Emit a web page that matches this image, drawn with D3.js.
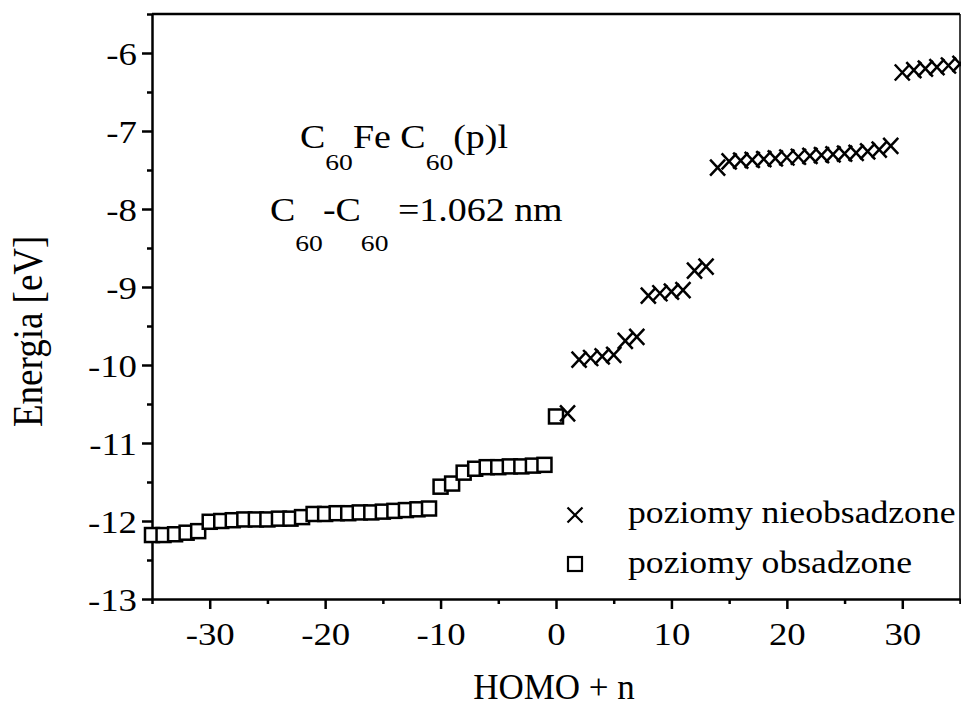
<!DOCTYPE html>
<html>
<head>
<meta charset="utf-8">
<script src="https://cdn.jsdelivr.net/npm/d3@7"></script>
<style>
  body { margin: 0; background: #fff; }
  text { font-family: "Liberation Serif", "Times New Roman", serif; fill: #000; white-space: pre; }
</style>
</head>
<body>
<div id="container"></div>
<script>
// occupied levels (HOMO + n, n <= 0)
var occN = [-35, -34, -33, -32, -31, -30, -29, -28, -27, -26, -25, -24, -23, -22, -21, -20, -19, -18,
            -17, -16, -15, -14, -13, -12, -11, -10, -9, -8, -7, -6, -5, -4, -3, -2, -1, 0];
var occE = [-12.18, -12.18, -12.17, -12.15, -12.13, -12.01, -12.00, -11.99, -11.98, -11.98, -11.98, -11.97,
            -11.97, -11.95, -11.91, -11.91, -11.90, -11.90, -11.89, -11.89, -11.88, -11.87, -11.86, -11.85,
            -11.84, -11.56, -11.52, -11.38, -11.33, -11.31, -11.31, -11.30, -11.30, -11.29, -11.28, -10.66];

// unoccupied levels
var unoccN = [1, 2, 3, 4, 5, 6, 7, 8, 9, 10, 11, 12, 13, 14, 15, 16, 17, 18,
              19, 20, 21, 22, 23, 24, 25, 26, 27, 28, 29, 30, 31, 32, 33, 34, 35];
var unoccE = [-10.62, -9.93, -9.91, -9.89, -9.87, -9.69, -9.64, -9.11, -9.08, -9.06, -9.04, -8.79,
              -8.74, -7.47, -7.39, -7.38, -7.37, -7.36, -7.35, -7.34, -7.33, -7.32, -7.31, -7.30,
              -7.29, -7.28, -7.26, -7.24, -7.19, -6.25, -6.22, -6.20, -6.18, -6.16, -6.14];

var xTicks = [-30, -20, -10, 0, 10, 20, 30];
var xMinor = [-35, -25, -15, -5, 5, 15, 25, 35];
var yTicks = [-13, -12, -11, -10, -9, -8, -7, -6];
var yMinor = [-12.5, -11.5, -10.5, -9.5, -8.5, -7.5, -6.5, -5.5];

var legendLabels = ["poziomy nieobsadzone", "poziomy obsadzone"];

var W = 961, H = 707;
var sx = 1.15; // scanned glyphs are a bit wider than plain Times

var svg = d3.select("#container")
  .append("svg")
    .attr("width", W)
    .attr("height", H);

var x = d3.scaleLinear()
  .domain([-35, 35])
  .range([152, 960]);

var y = d3.scaleLinear()
  .domain([-13, -5.5])
  .range([599, 14]);

// frame top / right
svg.append("line")
  .attr("x1", x(-35)).attr("x2", x(35))
  .attr("y1", y(-5.5)).attr("y2", y(-5.5))
  .attr("stroke", "#000").attr("stroke-width", 2.5);
svg.append("line")
  .attr("x1", x(35)).attr("x2", x(35))
  .attr("y1", y(-5.5)).attr("y2", y(-13))
  .attr("stroke", "#000").attr("stroke-width", 1.5);

// X axis
var gx = svg.append("g")
  .attr("transform", "translate(0," + y(-13) + ")")
  .call(d3.axisBottom(x).tickValues(xTicks).tickSize(10).tickSizeOuter(0)
    .tickFormat(function(d) { return String(d); }));

gx.selectAll("text")
  .attr("y", null).attr("dy", null)
  .attr("transform", "translate(0,46) scale(" + sx + ",1)")
  .style("font-size", "32px");

svg.append("g")
  .attr("transform", "translate(0," + y(-13) + ")")
  .call(d3.axisBottom(x).tickValues(xMinor).tickSize(5).tickSizeOuter(0).tickFormat(""))
  .select(".domain").remove();

// Y axis
var gy = svg.append("g")
  .attr("transform", "translate(" + x(-35) + ",0)")
  .call(d3.axisLeft(y).tickValues(yTicks).tickSize(10).tickSizeOuter(0)
    .tickFormat(function(d) { return String(d); }));

gy.selectAll("text")
  .attr("x", null).attr("dy", null)
  .attr("transform", "translate(-15,11) scale(" + sx + ",1)")
  .style("font-size", "32px");

svg.append("g")
  .attr("transform", "translate(" + x(-35) + ",0)")
  .call(d3.axisLeft(y).tickValues(yMinor).tickSize(5).tickSizeOuter(0).tickFormat(""))
  .select(".domain").remove();

svg.selectAll(".domain, .tick line")
  .attr("stroke", "#000")
  .attr("stroke-width", 2.5);
svg.selectAll(".tick text").attr("fill", "#000");

// axis titles
svg.append("text")
  .attr("x", 554).attr("y", 699)
  .attr("text-anchor", "middle")
  .style("font-size", "35px")
  .text("HOMO + n");

svg.append("text")
  .attr("transform", "translate(42,427) scale(" + sx + ",1) rotate(-90)")
  .style("font-size", "37px")
  .text("Energia [eV]");

// occupied levels: squares
svg.selectAll(".occ")
  .data(occN)
  .enter()
  .append("rect")
    .attr("class", "occ")
    .attr("x", function(d) { return x(d) - 7; })
    .attr("y", function(d, i) { return y(occE[i]) - 7; })
    .attr("width", 14)
    .attr("height", 14)
    .attr("fill", "#fff")
    .attr("stroke", "#000")
    .attr("stroke-width", 2.5);

// unoccupied levels: crosses
var cross = "M-7.5,-8L7.5,8M-7.5,8L7.5,-8";
svg.selectAll(".unocc")
  .data(unoccN)
  .enter()
  .append("path")
    .attr("class", "unocc")
    .attr("transform", function(d, i) { return "translate(" + x(d) + "," + y(unoccE[i]) + ")"; })
    .attr("d", cross)
    .attr("fill", "none")
    .attr("stroke", "#000")
    .attr("stroke-width", 2.5);

// annotation
function richText(px, py, parts, subDy) {
  var t = svg.append("text")
    .attr("transform", "translate(" + px + "," + py + ") scale(" + sx + ",1)")
    .style("font-size", "33px");
  var down = false;
  parts.forEach(function(p) {
    var s = t.append("tspan").text(p.t);
    if (p.sub) {
      s.attr("dy", subDy).style("font-size", "24px");
      down = true;
    } else if (down) {
      s.attr("dy", -subDy);
      down = false;
    }
  });
}

richText(300, 148, [
  {t: "C"}, {t: "60", sub: true}, {t: "Fe "}, {t: "C"}, {t: "60", sub: true}, {t: "(p)l"}
], 22);

richText(270, 221, [
  {t: "C"}, {t: "60", sub: true}, {t: "-C"}, {t: "60", sub: true}, {t: " =1.062 nm"}
], 30);

// legend
var lg = svg.append("g");
lg.append("path")
  .attr("transform", "translate(575,515)")
  .attr("d", "M-7.5,-7.5L7.5,7.5M-7.5,7.5L7.5,-7.5")
  .attr("fill", "none").attr("stroke", "#000").attr("stroke-width", 2.2);
lg.append("rect")
  .attr("x", 568).attr("y", 557).attr("width", 14).attr("height", 14)
  .attr("fill", "#fff").attr("stroke", "#000").attr("stroke-width", 2.2);
lg.selectAll(".lbl")
  .data(legendLabels)
  .enter()
  .append("text")
    .attr("class", "lbl")
    .attr("transform", function(d, i) { return "translate(628," + (523 + i * 50) + ") scale(" + sx + ",1)"; })
    .style("font-size", "31px")
    .text(function(d) { return d; });
</script>
</body>
</html>
